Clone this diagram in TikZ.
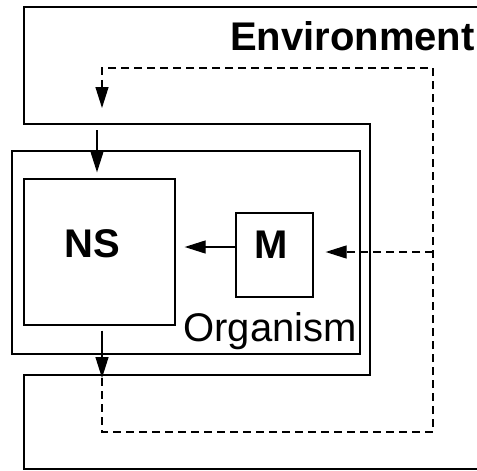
\documentclass[tikz,border=0pt]{standalone}
\usepackage{fontspec}
\setmainfont{Liberation Sans}
\usetikzlibrary{arrows.meta}
\usetikzlibrary{calc}

\tikzset{
  box/.style={draw, line width=1.3pt, inner sep=0pt},
  arr/.style={-{Triangle[length=21pt,width=13pt]}, line width=1.3pt},
  dsh/.style={dash pattern=on 8pt off 5pt, line width=1.2pt},
  big/.style={font=\fontsize{40}{40}\selectfont, inner sep=0pt},
}

\begin{document}
\begin{tikzpicture}[x=1pt, y=-1pt]
        \useasboundingbox (0,0) rectangle (477,471);
        \coordinate (inlet) at (102,108);
        \coordinate (outlet) at (102,378);
        \coordinate (tr) at (433,68);
        \coordinate (br) at (433,432);
        \coordinate (mj) at (433,252);
        \coordinate (mo) at (0,247);
        \coordinate (envin) at (97,124);
        \draw[line width=1.3pt] (477,7) -- (24,7) -- (24,124) -- (370,124) -- (370,375) -- (24,375) -- (24,469) -- (477,469);
        \node[box, minimum width=348pt, minimum height=203pt] (org) at (186,252.5) {};
        \node[box, minimum width=151pt, minimum height=146pt] (ns) at (99.5,252) {};
        \node[box, minimum width=77pt, minimum height=84pt] (m) at (274.5,255) {};
        \node[big] (nslbl) at (92,244) {\bfseries NS};
        \node[big] (mlbl) at (271,245) {\bfseries M};
        \node[big, anchor=base west] (envlbl) at (230,50) {\bfseries Environment};
        \node[big, anchor=base east] (orglbl) at (357,341) {Organism};
        \draw[arr, shorten <=6pt, shorten >=6pt] (envin) -- (envin |- ns.north);
        \draw[arr, shorten >=9pt] (m.west |- mo) -- (ns.east |- mo);
        \draw[arr, shorten <=5pt] (ns.south -| outlet) -- (outlet);
        \draw[dsh, arr] (outlet) -- (outlet |- br) -- (br) -- (tr) -- (tr -| inlet) -- (inlet);
        \draw[dsh, arr, shorten >=12pt] (mj) -- (mj -| m.east);
    \end{tikzpicture}
\end{document}
